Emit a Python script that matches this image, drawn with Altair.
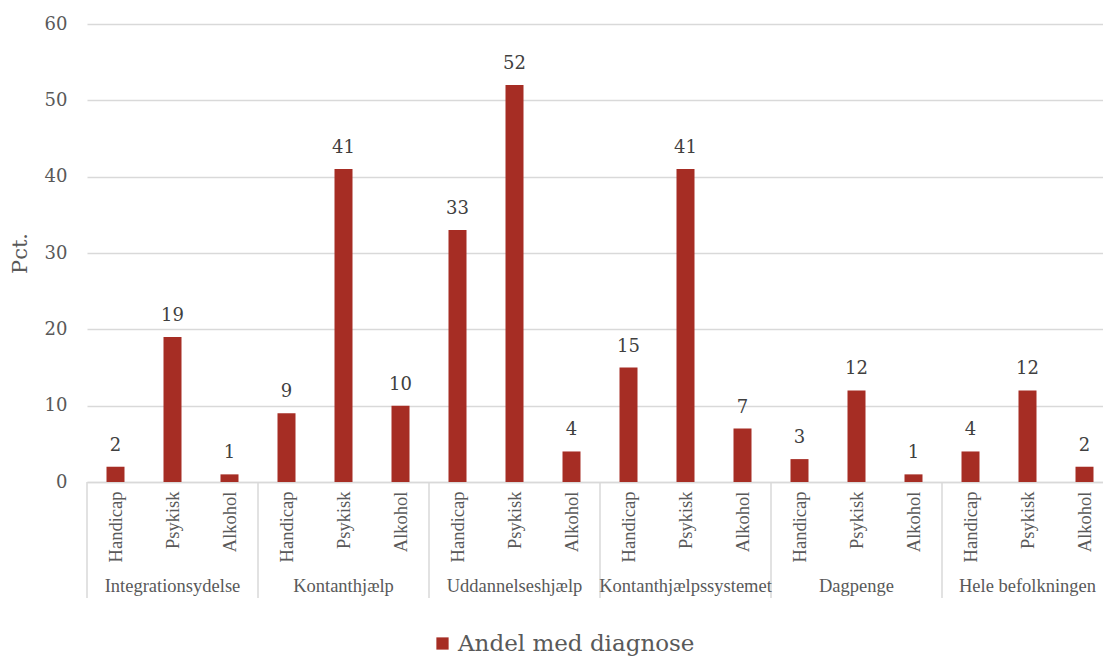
import altair as alt
import pandas as pd

# Share of each benefit group with a given diagnosis (pct.)
groups = ["Integrationsydelse", "Kontanthjælp", "Uddannelseshjælp",
          "Kontanthjælpssystemet", "Dagpenge", "Hele befolkningen"]
types = ["Handicap", "Psykisk", "Alkohol"]
handicap = [2, 9, 33, 15, 3, 4]
psykisk = [19, 41, 52, 41, 12, 12]
alkohol = [1, 10, 4, 7, 1, 2]
series_name = "Andel med diagnose"

BAR = "#A62D24"
GRID = "#D9D9D9"
TXT = "#595959"

rows = []
for g, name in enumerate(groups):
    for t, (kind, vals) in enumerate(zip(types, [handicap, psykisk, alkohol])):
        rows.append({"group": name, "type": kind, "pos": g * 3 + t,
                     "value": vals[g], "series": series_name})
df = pd.DataFrame(rows)

grp_df = pd.DataFrame({"group": groups, "center": [g * 3 + 1 for g in range(len(groups))]})
sep_df = pd.DataFrame({"edge": [g * 3 - 0.5 for g in range(len(groups) + 1)]})

PLOT_W = 1016
PLOT_H = 458
SLOT = 57  # pixels per bar slot
x_scale = alt.Scale(domain=[-0.5, -0.5 + PLOT_W / SLOT], nice=False, zero=False, padding=0)
y_scale = alt.Scale(domain=[0, 60], nice=False, padding=0)

type_list = "[" + ",".join(f"'{t}'" for t in types) + "]"

x_axis = alt.Axis(
    values=list(range(len(df))),
    labelExpr=f"{type_list}[datum.value % 3]",
    labelAngle=-90, labelFont="Liberation Serif", labelFontSize=18.5,
    labelColor=TXT, labelPadding=9, ticks=False, grid=False,
    domainColor=GRID, domainWidth=1.5, labelOverlap=False, labelFlush=False,
    title=None,
)
y_axis = alt.Axis(
    values=list(range(0, 61, 10)), title="Pct.", titleFont="DejaVu Serif",
    titleFontSize=21, titleFontWeight="normal", titleColor=TXT, titlePadding=14,
    labelFont="DejaVu Serif", labelFontSize=18, labelColor=TXT, labelPadding=20,
    ticks=False, domain=False, grid=True, gridColor=GRID, gridWidth=1.5,
)

bars = alt.Chart(df).mark_bar(width=18).encode(
    x=alt.X("pos:Q", scale=x_scale, axis=x_axis),
    y=alt.Y("value:Q", scale=y_scale, axis=y_axis),
    color=alt.Color("series:N", scale=alt.Scale(range=[BAR]),
                    legend=alt.Legend(title=None, orient="none", legendX=344, legendY=608,
                                      symbolType="square", symbolSize=150,
                                      symbolStrokeWidth=0, labelFont="DejaVu Serif",
                                      labelFontSize=23, labelColor=TXT, labelOffset=4,
                                      labelLimit=0, padding=0)),
)

labels = alt.Chart(df).mark_text(
    dy=-16, baseline="alphabetic", font="DejaVu Serif", fontSize=18, color="#404040"
).encode(
    x=alt.X("pos:Q", scale=x_scale, axis=x_axis),
    y=alt.Y("value:Q", scale=y_scale, axis=y_axis),
    text=alt.Text("value:Q"),
)

separators = alt.Chart(sep_df).mark_rule(color=GRID, strokeWidth=1.5).encode(
    x=alt.X("edge:Q", scale=x_scale, axis=x_axis),
    y=alt.value(PLOT_H),
    y2=alt.value(PLOT_H + 116),
)

group_labels = alt.Chart(grp_df).mark_text(
    font="Liberation Serif", fontSize=18.5, color=TXT, baseline="middle"
).encode(
    x=alt.X("center:Q", scale=x_scale, axis=x_axis),
    y=alt.value(PLOT_H + 104),
    text="group:N",
)

chart = alt.layer(bars, separators, labels, group_labels).properties(
    width=PLOT_W, height=PLOT_H,
    autosize=alt.AutoSizeParams(type="none"),
    padding={"left": 87, "top": 24, "right": 0, "bottom": 175},
).configure(background="white").configure_view(strokeWidth=0)

chart.save("out.html", embed_options={"renderer": "svg", "actions": False})
